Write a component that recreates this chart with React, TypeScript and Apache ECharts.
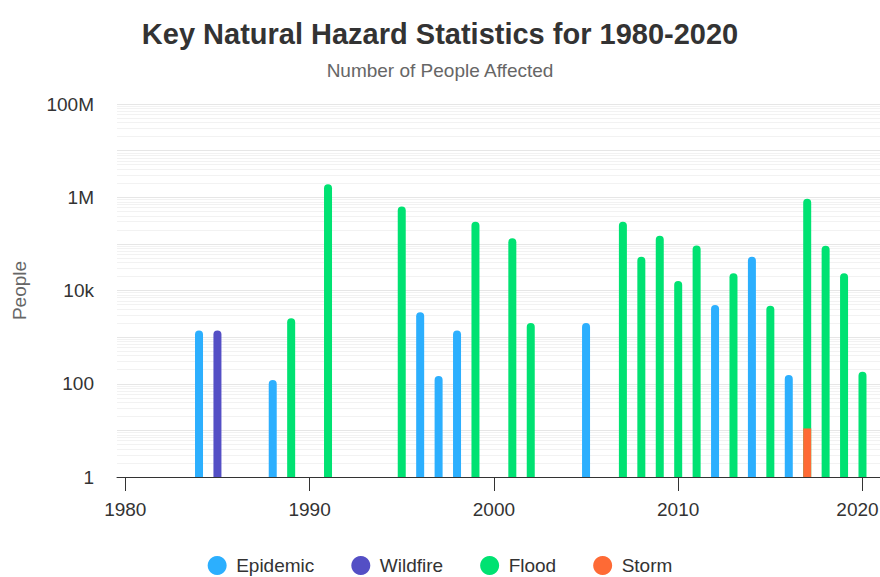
import React, { useEffect, useRef } from "react";
import * as echarts from "echarts";

const epidemicYears = [1984, 1988, 1996, 1997, 1998, 2005, 2012, 2014, 2016];
const epidemicValues = [1380, 120, 3400, 147, 1380, 2000, 4900, 53000, 155];

const wildfireYears = [1985];
const wildfireValues = [1380];

const floodYears = [1989, 1991, 1995, 1999, 2001, 2002, 2007, 2008, 2009, 2010, 2011, 2013, 2015, 2017, 2018, 2019, 2020];
const floodValues = [2550, 1900000, 630000, 300000, 132000, 2000, 300000, 53000, 150000, 16000, 92000, 23500, 4700, 925000, 91000, 23500, 180];

const stormYears = [2017];
const stormValues = [11];

const xTickYears = [1980, 1990, 2000, 2010, 2020];
const yLabelMap: Record<number, string> = { 0: "1", 2: "100", 4: "10k", 6: "1M", 8: "100M" };
const minorMultipliers = [2, 3, 4, 5, 6, 7, 8, 9];
const decades = [0, 1, 2, 3, 4, 5, 6, 7];

const FONT = "'Liberation Sans', Arial, Helvetica, sans-serif";

const pairs = (xs: number[], ys: number[]) => xs.map((x, i) => [x, ys[i]]);

export default function App() {
  const ref = useRef<HTMLDivElement>(null);
  useEffect(() => {
    if (!ref.current) return;
    const chart = echarts.init(ref.current, undefined, { renderer: "svg" });
    const minorLines: { yAxis: number }[] = [];
    decades.forEach((d) =>
      minorMultipliers.forEach((m) => minorLines.push({ yAxis: m * Math.pow(10, d) }))
    );
    const barBase = {
      type: "bar" as const,
      barWidth: 8,
      barGap: "-100%",
      itemStyle: { borderRadius: [4, 4, 0, 0] },
    };
    const lastTick = xTickYears[xTickYears.length - 1];
    chart.setOption({
      animation: false,
      textStyle: { fontFamily: FONT },
      title: {
        text: "Key Natural Hazard Statistics for 1980-2020",
        subtext: "Number of People Affected",
        left: "center",
        top: 14,
        itemGap: 13,
        textStyle: { fontSize: 29, fontWeight: "bold", color: "#333333", fontFamily: FONT },
        subtextStyle: { fontSize: 19, color: "#666666", fontFamily: FONT },
      },
      legend: {
        data: ["Epidemic", "Wildfire", "Flood", "Storm"],
        top: 556,
        padding: 0,
        left: "center",
        icon: "circle",
        itemWidth: 28,
        itemHeight: 19,
        itemGap: 37,
        textStyle: { fontSize: 19, color: "#333333", fontFamily: FONT },
      },
      grid: {
        left: 117,
        right: 0,
        top: 104,
        bottom: 100,
        containLabel: false,
        outerBoundsMode: "none",
      },
      xAxis: {
        type: "value",
        min: 1979.55,
        max: 2020.95,
        axisLine: { show: true, lineStyle: { color: "#333333", width: 1 } },
        axisTick: { show: true, customValues: xTickYears, length: 14, lineStyle: { color: "#333333" } },
        axisLabel: {
          customValues: xTickYears,
          fontSize: 19,
          color: "#333333",
          margin: 23,
          formatter: (v: number) => {
            const y = Math.round(v);
            return y === lastTick ? `{r|${y}}` : String(y);
          },
          rich: {
            r: { fontSize: 19, color: "#333333", fontFamily: FONT, padding: [0, 10, 0, 0] },
          },
        },
        splitLine: { show: false },
      },
      yAxis: {
        type: "log",
        logBase: 10,
        min: 1,
        max: 100000000,
        splitNumber: 8,
        name: "People",
        nameLocation: "middle",
        nameGap: 88,
        nameTextStyle: { fontSize: 19, color: "#666666", fontFamily: FONT },
        axisLine: { show: false },
        axisTick: { show: false },
        axisLabel: {
          fontSize: 19,
          color: "#333333",
          margin: 23,
          formatter: (v: number) => {
            const e = Math.round(Math.log10(v));
            return yLabelMap[e] ?? "";
          },
        },
        splitLine: { show: true, lineStyle: { color: "#e6e6e6", width: 1 } },
      },
      series: [
        { ...barBase, name: "Epidemic", color: "#2caffe", data: pairs(epidemicYears, epidemicValues) },
        { ...barBase, name: "Wildfire", color: "#544fc5", data: pairs(wildfireYears, wildfireValues) },
        {
          ...barBase,
          name: "Flood",
          color: "#00e272",
          data: pairs(floodYears, floodValues),
          markLine: {
            silent: true,
            z: 1,
            symbol: ["none", "none"],
            label: { show: false },
            lineStyle: { color: "#f2f2f2", width: 1, type: "solid" },
            emphasis: { disabled: true },
            data: minorLines,
          },
        },
        {
          ...barBase,
          name: "Storm",
          color: "#fe6a35",
          itemStyle: { borderRadius: 0 },
          data: pairs(stormYears, stormValues),
        },
      ],
    });
    return () => chart.dispose();
  }, []);
  return (
    <div
      ref={ref}
      style={{ position: "fixed", left: 0, top: 0, width: 880, height: 577, background: "#fff" }}
    />
  );
}
